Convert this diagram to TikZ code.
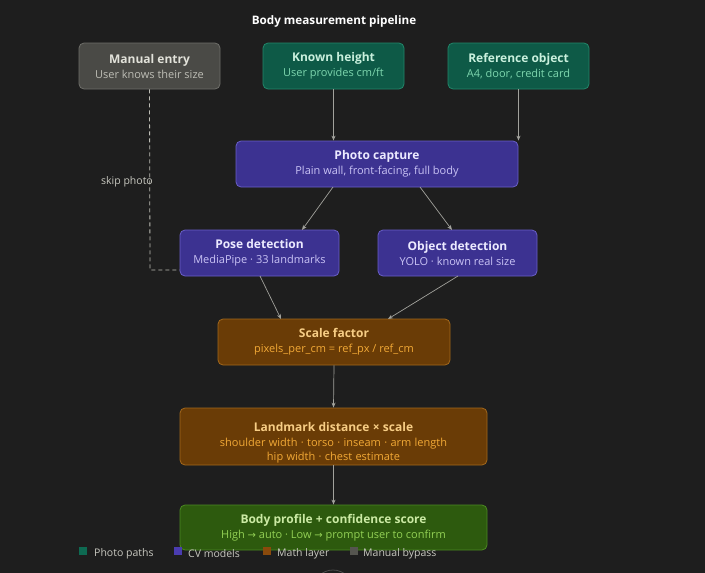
\documentclass[tikz,border=0pt]{standalone}
\usepackage{fontspec}
\setmainfont{Open Sans}
\newfontfamily\symf{DejaVu Sans}
\usetikzlibrary{arrows.meta}
\definecolor{bg}{HTML}{1E1E1E}
\definecolor{grayfill}{HTML}{4A4A46}
\definecolor{grayline}{HTML}{6E6E69}
\definecolor{graytitle}{HTML}{E2E2DA}
\definecolor{graysub}{HTML}{BDBDB5}
\definecolor{tealfill}{HTML}{0E5A47}
\definecolor{tealline}{HTML}{22876A}
\definecolor{tealtitle}{HTML}{C9F0DD}
\definecolor{tealsub}{HTML}{7DD6AE}
\definecolor{purpfill}{HTML}{3C3291}
\definecolor{purpline}{HTML}{6A5FC8}
\definecolor{purptitle}{HTML}{ECEAFF}
\definecolor{purpsub}{HTML}{C9C3F5}
\definecolor{brfill}{HTML}{6A3C06}
\definecolor{brline}{HTML}{A3681C}
\definecolor{brtitle}{HTML}{F7CD85}
\definecolor{brsub}{HTML}{F2A936}
\definecolor{grfill}{HTML}{2D5A0E}
\definecolor{grline}{HTML}{4C8A22}
\definecolor{grtitle}{HTML}{CBEAA4}
\definecolor{grsub}{HTML}{92D054}
\definecolor{arr}{HTML}{A2A29C}
\definecolor{legtext}{HTML}{C8C8C0}
\definecolor{legteal}{HTML}{0E6A52}
\definecolor{legpurp}{HTML}{4A3CB0}
\definecolor{legbr}{HTML}{8A4A0C}
\definecolor{leggray}{HTML}{55554F}
\tikzset{
  x=1pt, y=-1pt,
  box/.style={draw, line width=0.8pt, rounded corners=5pt, minimum height=46pt, align=center, inner sep=0pt},
  gbox/.style={box, fill=grayfill, draw=grayline},
  tbox/.style={box, fill=tealfill, draw=tealline},
  pbox/.style={box, fill=purpfill, draw=purpline},
  bbox/.style={box, fill=brfill, draw=brline},
  lbox/.style={box, fill=grfill, draw=grline},
  conn/.style={draw=arr, line width=0.7pt, -{Stealth[length=5pt,width=4pt]}},
  legsq/.style={minimum size=8pt, inner sep=0pt},
  legtx/.style={text=legtext, font=\fontsize{10.5}{12}\selectfont, anchor=west, inner sep=0pt}
}
\newcommand{\bt}[2]{{\fontsize{12}{15}\selectfont\bfseries\color{#1}#2}}
\newcommand{\bs}[2]{{\fontsize{11}{15}\selectfont\color{#1}#2}}
\begin{document}
\begin{tikzpicture}
\fill[bg] (0,0) rectangle (705,573);
\useasboundingbox (0,0) rectangle (705,573);
\draw[color=bg!80!white, line width=0.8pt] (333,590) circle (20);
\node[text=white, font=\fontsize{11.7}{14}\selectfont\bfseries] (title) at (334,21) {Body measurement pipeline};

\node[gbox, minimum width=141pt] (manual) at (149.5,66) {\bt{graytitle}{Manual entry}\\[3pt]\bs{graysub}{User knows their size}};
\node[tbox, minimum width=141pt] (known) at (333.5,66) {\bt{tealtitle}{Known height}\\[3pt]\bs{tealsub}{User provides cm/ft}};
\node[tbox, minimum width=141pt] (ref) at (518.5,66) {\bt{tealtitle}{Reference object}\\[3pt]\bs{tealsub}{A4, door, credit card}};

\node[pbox, minimum width=282pt] (photo) at (377,164) {\bt{purptitle}{Photo capture}\\[3pt]\bs{purpsub}{Plain wall, front-facing, full body}};
\node[pbox, minimum width=159pt] (pose) at (259.5,253) {\bt{purptitle}{Pose detection}\\[3pt]\bs{purpsub}{MediaPipe · 33 landmarks}};
\node[pbox, minimum width=159pt] (obj) at (457.5,253) {\bt{purptitle}{Object detection}\\[3pt]\bs{purpsub}{YOLO · known real size}};

\node[bbox, minimum width=232pt] (scale) at (334,342) {\bt{brtitle}{Scale factor}\\[3pt]\bs{brsub}{pixels\_per\_cm = ref\_px / ref\_cm}};
\node[bbox, minimum width=307pt, minimum height=57pt] (land) at (333.5,436.5) {};
\node[text width=300pt, align=center, inner sep=0pt] (landtxt) at (333.5,442.5) {\bt{brtitle}{Landmark distance × scale}\\[3pt]\bs{brsub}{shoulder width · torso · inseam · arm length}\\[2pt]\bs{brsub}{hip width · chest estimate}};
\node[lbox, minimum width=307pt, minimum height=45pt] (body) at (333.5,527.5) {\bt{grtitle}{Body profile + confidence score}\\[3pt]\bs{grsub}{High {\symf\fontsize{10}{12}\selectfont →} auto · Low {\symf\fontsize{10}{12}\selectfont →} prompt user to confirm}};

\draw[conn] (known.south) -- (known.south |- photo.north);
\draw[conn] (ref.south) -- (ref.south |- photo.north);
\coordinate (pc1) at (333,187);
\coordinate (pc2) at (420,187);
\coordinate (pd1) at (302,230);
\coordinate (od1) at (452,230);
\draw[conn] (pc1) -- (pd1);
\draw[conn] (pc2) -- (od1);
\coordinate (pd2) at (260,276);
\coordinate (sf1) at (281,319);
\coordinate (od2) at (458,276);
\coordinate (sf2) at (388,319);
\draw[conn] (pd2) -- (sf1);
\draw[conn] (od2) -- (sf2);
\draw[conn] (scale.south) -- (land.north);
\draw[conn] (land.south) -- (body.north);

\coordinate (bend) at (150,270);
\draw[draw=graysub, line width=0.8pt, dash pattern=on 4pt off 3pt] (manual.south) -- (bend) -- (bend -| pose.west);
\node[text=legtext, font=\fontsize{10.5}{12}\selectfont, anchor=east, inner sep=0pt] (skip) at (153,182) {skip photo};

\node[legsq, fill=legteal] (l1) at (83,551) {};
\node[legtx] (t1) at (94,554) {Photo paths};
\node[legsq, fill=legpurp] (l2) at (178,551) {};
\node[legtx] (t2) at (188,554) {CV models};
\node[legsq, fill=legbr] (l3) at (267,551) {};
\node[legtx] (t3) at (277,554) {Math layer};
\node[legsq, fill=leggray] (l4) at (354,551) {};
\node[legtx] (t4) at (363,554) {Manual bypass};
\end{tikzpicture}
\end{document}
